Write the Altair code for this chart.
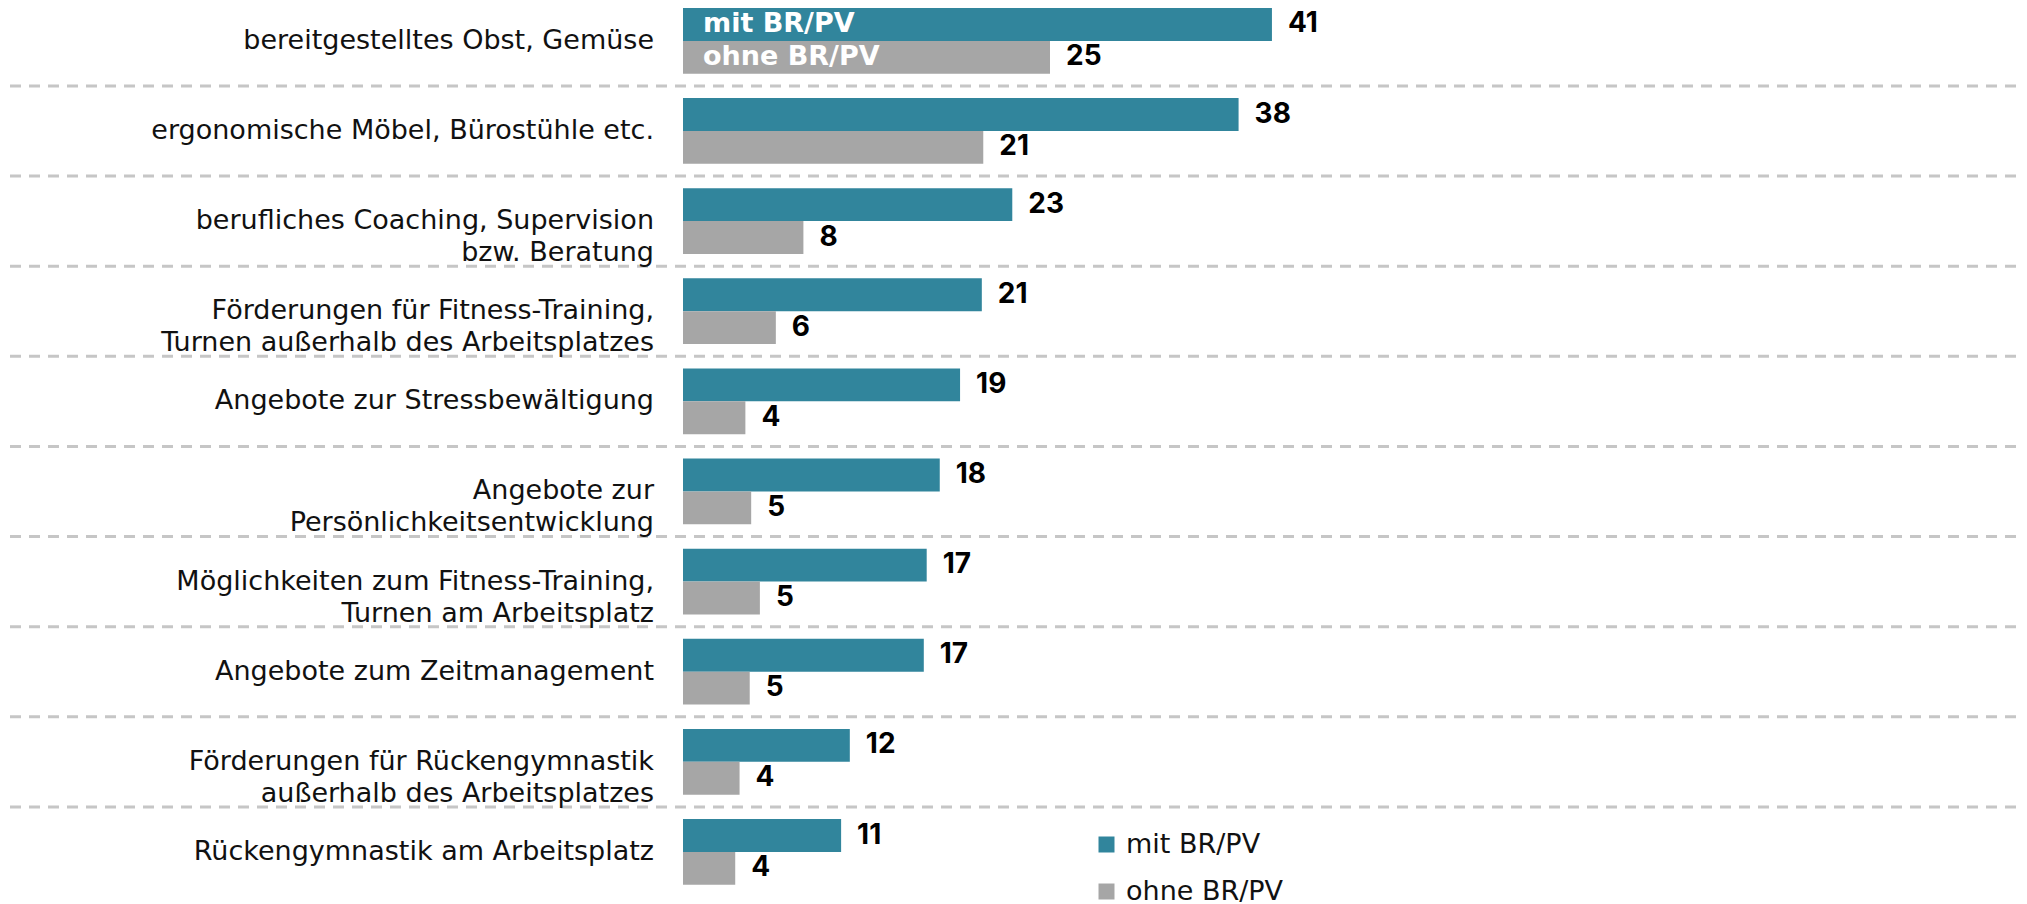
import altair as alt
import pandas as pd

categories = [
    "bereitgestelltes Obst, Gemüse",
    "ergonomische Möbel, Bürostühle etc.",
    "berufliches Coaching, Supervision|bzw. Beratung",
    "Förderungen für Fitness-Training,|Turnen außerhalb des Arbeitsplatzes",
    "Angebote zur Stressbewältigung",
    "Angebote zur|Persönlichkeitsentwicklung",
    "Möglichkeiten zum Fitness-Training,|Turnen am Arbeitsplatz",
    "Angebote zum Zeitmanagement",
    "Förderungen für Rückengymnastik|außerhalb des Arbeitsplatzes",
    "Rückengymnastik am Arbeitsplatz",
]
series = ["mit BR/PV", "ohne BR/PV"]
mit_values = [40.6, 38.3, 22.7, 20.6, 19.1, 17.7, 16.8, 16.6, 11.5, 10.9]
ohne_values = [25.3, 20.7, 8.3, 6.4, 4.3, 4.7, 5.3, 4.6, 3.9, 3.6]
colors = ["#31859c", "#a6a6a6"]

rows = []
for c, m, o in zip(categories, mit_values, ohne_values):
    rows.append({"cat": c, "series": series[0], "value": m, "zero": 0})
    rows.append({"cat": c, "series": series[1], "value": o, "zero": 0})
df = pd.DataFrame(rows)
cat_df = pd.DataFrame({"cat": categories, "zero": [0] * len(categories)})
sep_df = pd.DataFrame({"cat": categories[1:]})

LABEL_FONT = "DejaVu Sans"
NUM_FONT = "Inter"

x_scale = alt.Scale(domain=[0, 92.1], nice=False, zero=True)
y_scale = alt.Scale(range=[-12.18, 889.0], paddingInner=0, paddingOuter=0)
off_scale = alt.Scale(paddingInner=0, paddingOuter=0.3706)

bars = alt.Chart(df).mark_bar().encode(
    x=alt.X("value:Q", scale=x_scale, axis=None),
    y=alt.Y("cat:N", sort=categories, title=None, scale=y_scale, axis=None),
    yOffset=alt.YOffset("series:N", sort=series, scale=off_scale),
    color=alt.Color(
        "series:N", sort=series,
        scale=alt.Scale(domain=series, range=colors),
        legend=alt.Legend(
            title=None, orient="none", legendX=410, legendY=823,
            direction="vertical", symbolType="square", symbolSize=256,
            symbolStrokeWidth=0, symbolOpacity=1,
            labelFont=LABEL_FONT, labelFontSize=27, labelFontWeight="normal",
            labelColor="#111111", labelOffset=6, rowPadding=19, padding=0,
        ),
    ),
)

cat_labels = alt.Chart(cat_df).mark_text(
    align="right", baseline="middle", dx=-29, font=LABEL_FONT, fontSize=27,
    fontWeight="normal", color="#111111", lineBreak="|", lineHeight=32,
).encode(
    x=alt.X("zero:Q", scale=x_scale, axis=None),
    y=alt.Y("cat:N", sort=categories, axis=None),
    text="cat:N",
)

values = alt.Chart(df).mark_text(
    align="left", baseline="middle", dx=16, font=NUM_FONT, fontSize=28,
    fontWeight="bold", color="#000000",
).encode(
    x=alt.X("value:Q", scale=x_scale, axis=None),
    y=alt.Y("cat:N", sort=categories, axis=None),
    yOffset=alt.YOffset("series:N", sort=series, scale=off_scale),
    text=alt.Text("value:Q", format=".0f"),
)

inbar = alt.Chart(df).transform_filter(
    alt.datum.cat == categories[0]
).mark_text(
    align="left", baseline="middle", dx=20, font=LABEL_FONT, fontSize=27,
    fontWeight="bold", color="#ffffff",
).encode(
    x=alt.X("zero:Q", scale=x_scale, axis=None),
    y=alt.Y("cat:N", sort=categories, axis=None),
    yOffset=alt.YOffset("series:N", sort=series, scale=off_scale),
    text="series:N",
)

seps = alt.Chart(sep_df).mark_rule(
    color="#c6c6c6", strokeWidth=3, strokeDash=[11, 8]
).encode(
    y=alt.Y("cat:N", sort=categories, bandPosition=0, axis=None),
    x=alt.value(-673),
    x2=alt.value(1336),
)

chart = alt.layer(bars, seps, values, inbar, cat_labels).properties(
    width=1336, height=896,
    autosize=alt.AutoSizeParams(type="none"),
    padding={"left": 675, "top": 0, "right": 0, "bottom": 0},
    background="#ffffff",
).configure_view(
    stroke="transparent", strokeWidth=0
).configure_axis(
    domain=False, grid=False, ticks=False, labels=False
)

chart.save("out.html", embed_options={"renderer": "svg", "actions": False})
